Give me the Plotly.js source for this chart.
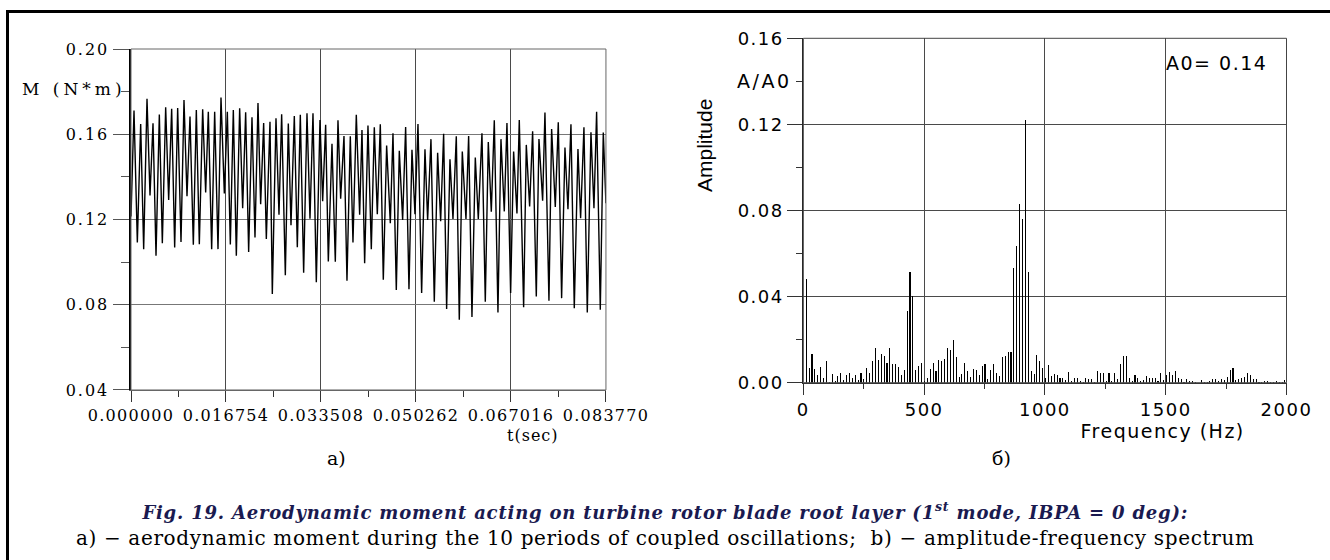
<!DOCTYPE html>
<html>
<head>
<meta charset="utf-8">
<script src="https://cdn.plot.ly/plotly-3.0.1.min.js"></script>
<style>
  html, body { margin:0; padding:0; background:#fff; }
  #wrap { position:relative; width:1330px; height:560px; overflow:hidden; }
  #chart { position:absolute; left:0; top:0; width:1330px; height:560px; }
  .frameTop { position:absolute; left:6px; top:10px; width:1324px; height:3px; background:#000; }
  .frameLeft { position:absolute; left:6px; top:10px; width:3px; height:550px; background:#000; }
  .xtick text { letter-spacing:1.25px; }
  .ytick text { letter-spacing:2px; }
  .x2tick text, .y2tick text { letter-spacing:1.5px; }
  g.annotation[data-index="0"] text { letter-spacing:4px; }
  g.annotation[data-index="1"] text { letter-spacing:1px; }
  g.annotation[data-index="2"] text { letter-spacing:2.5px; }
  g.annotation[data-index="4"] text { letter-spacing:1.5px; }
  g.annotation[data-index="5"] text { letter-spacing:1.5px; }
  g.annotation[data-index="8"] text { letter-spacing:0.8px; }
  g.annotation[data-index="9"] text { letter-spacing:0.65px; }
</style>
</head>
<body>
<div id="wrap">
  <div id="chart"></div>
  <div class="frameTop"></div>
  <div class="frameLeft"></div>
</div>
<script>
// ---------- (a) aerodynamic moment, time series (extrema) ----------
const timeSec = [
0.000000,0.000529,0.001117,0.001705,0.002234,0.002822,0.003351,0.003880,0.004409,0.004997,
0.005526,0.006114,0.006643,0.007172,0.007701,0.008230,0.008818,0.009347,0.009876,0.010405,
0.010993,0.011522,0.012051,0.012639,0.013168,0.013638,0.014226,0.014755,0.015343,0.015872,
0.016460,0.016989,0.017518,0.018047,0.018576,0.019164,0.019693,0.020222,0.020751,0.021339,
0.021868,0.022397,0.022868,0.023397,0.023867,0.024514,0.024925,0.025572,0.026101,0.026571,
0.027218,0.027747,0.028217,0.028805,0.029334,0.029863,0.030451,0.031039,0.031568,0.032097,
0.032685,0.033332,0.033802,0.034331,0.034801,0.035448,0.036036,0.036506,0.036977,0.037565,
0.038093,0.038681,0.039151,0.039739,0.040327,0.040738,0.041209,0.041797,0.042384,0.042913,
0.043442,0.043972,0.044501,0.045088,0.045735,0.046206,0.046793,0.047322,0.047910,0.048439,
0.049028,0.049556,0.050085,0.050615,0.051261,0.051849,0.052319,0.052907,0.053495,0.054083,
0.054612,0.055141,0.055670,0.056258,0.056787,0.057375,0.057904,0.058433,0.059080,0.059550,
0.060138,0.060726,0.061255,0.061901,0.062490,0.063019,0.063548,0.064077,0.064723,0.065252,
0.065840,0.066310,0.066957,0.067486,0.068074,0.068485,0.069250,0.069720,0.070308,0.070837,
0.071484,0.071954,0.072601,0.073012,0.073717,0.074188,0.074835,0.075364,0.075952,0.076540,
0.077068,0.077598,0.078185,0.078832,0.079302,0.079890,0.080478,0.081125,0.081654,0.082124,
0.082771,0.083300,0.083770
];
const momentNm = [
0.1214,0.1711,0.1092,0.1648,0.1061,0.1766,0.1313,0.1652,0.1030,0.1692,
0.1089,0.1727,0.1292,0.1719,0.1069,0.1723,0.1095,0.1761,0.1309,0.1683,
0.1081,0.1714,0.1084,0.1717,0.1327,0.1705,0.1061,0.1706,0.1061,0.1772,
0.1322,0.1705,0.1083,0.1714,0.1030,0.1722,0.1253,0.1703,0.1047,0.1680,
0.1116,0.1747,0.1272,0.1653,0.1108,0.1659,0.0850,0.1675,0.1222,0.1694,
0.0939,0.1650,0.1173,0.1686,0.1070,0.1691,0.0950,0.1698,0.1203,0.1698,
0.0906,0.1667,0.1286,0.1645,0.1003,0.1555,0.1002,0.1666,0.1298,0.1592,
0.0913,0.1591,0.1092,0.1691,0.1222,0.1620,0.0995,0.1641,0.1061,0.1633,
0.1225,0.1647,0.0917,0.1547,0.1183,0.1605,0.0869,0.1522,0.1198,0.1634,
0.0873,0.1527,0.1225,0.1648,0.0855,0.1530,0.1198,0.1577,0.0814,0.1513,
0.1192,0.1602,0.0780,0.1483,0.1202,0.1591,0.0730,0.1519,0.1202,0.1592,
0.0742,0.1491,0.1202,0.1605,0.0814,0.1564,0.1236,0.1666,0.0764,0.1577,
0.1238,0.1653,0.0855,0.1519,0.1228,0.1667,0.0788,0.1550,0.1261,0.1614,
0.0839,0.1578,0.1288,0.1702,0.0819,0.1625,0.1259,0.1656,0.0831,0.1538,
0.1248,0.1647,0.0784,0.1531,0.1206,0.1633,0.0764,0.1609,0.1253,0.1705,
0.0777,0.1608,0.1276
];
const timeTickVals = [0, 0.016754, 0.033508, 0.050262, 0.067016, 0.083770];
const timeTickText = ["0.000000","0.016754","0.033508","0.050262","0.067016","0.083770"];
const timeMinorVals = [0.008377, 0.025131, 0.041885, 0.058639, 0.075393];
const momentTickVals = [0.04, 0.08, 0.12, 0.16, 0.20];
const momentTickText = ["0.04","0.08","0.12","0.16","0.20"];
const momentMinorVals = [0.06, 0.10, 0.14, 0.18];

// ---------- (б) amplitude-frequency spectrum ----------
const freqHz = [
11.9,23.9,35.8,47.7,59.7,71.6,83.6,95.5,107.4,119.4,
131.3,143.2,155.2,167.1,179.1,191.0,202.9,214.9,226.8,238.7,
250.7,262.6,274.6,286.5,298.4,310.4,322.3,334.2,346.2,358.1,
370.0,382.0,393.9,405.9,417.8,429.7,441.7,453.6,465.5,477.5,
489.4,501.4,513.3,525.2,537.2,549.1,561.0,573.0,584.9,596.9,
608.8,620.7,632.7,644.6,656.5,668.5,680.4,692.3,704.3,716.2,
728.2,740.1,752.0,764.0,775.9,787.8,799.8,811.7,823.7,835.6,
847.5,859.5,871.4,883.3,895.3,907.2,919.1,931.1,943.0,955.0,
966.9,978.8,990.8,1002.7,1014.6,1026.6,1038.5,1050.5,1062.4,1074.3,
1086.3,1098.2,1110.1,1122.1,1134.0,1145.9,1157.9,1169.8,1181.8,1193.7,
1205.6,1217.6,1229.5,1241.4,1253.4,1265.3,1277.3,1289.2,1301.1,1313.1,
1325.0,1336.9,1348.9,1360.8,1372.7,1384.7,1396.6,1408.6,1420.5,1432.4,
1444.4,1456.3,1468.2,1480.2,1492.1,1504.1,1516.0,1527.9,1539.9,1551.8,
1563.7,1575.7,1587.6,1599.5,1611.5,1623.4,1635.4,1647.3,1659.2,1671.2,
1683.1,1695.0,1707.0,1718.9,1730.9,1742.8,1754.7,1766.7,1778.6,1790.5,
1802.5,1814.4,1826.3,1838.3,1850.2,1862.2,1874.1,1886.0,1898.0,1909.9,
1921.8,1933.8,1945.7,1957.7,1969.6,1981.5,1993.5
];
const amplitude = [
0.0480,0.0067,0.0132,0.0062,0.0034,0.0073,0.0023,0.0099,0.0005,0.0039,
0.0008,0.0030,0.0043,0.0012,0.0034,0.0043,0.0023,0.0034,0.0012,0.0043,
0.0019,0.0067,0.0043,0.0099,0.0161,0.0104,0.0132,0.0122,0.0091,0.0161,
0.0087,0.0087,0.0073,0.0036,0.0057,0.0333,0.0513,0.0405,0.0059,0.0076,
0.0090,0.0010,0.0020,0.0064,0.0090,0.0053,0.0105,0.0102,0.0108,0.0161,
0.0152,0.0197,0.0121,0.0028,0.0039,0.0091,0.0053,0.0028,0.0062,0.0059,
0.0034,0.0076,0.0085,0.0019,0.0059,0.0085,0.0046,0.0030,0.0118,0.0124,
0.0144,0.0144,0.0532,0.0637,0.0828,0.0760,0.1219,0.0515,0.0053,0.0039,
0.0130,0.0101,0.0067,0.0020,0.0081,0.0030,0.0039,0.0034,0.0023,0.0023,
0.0012,0.0051,0.0009,0.0023,0.0023,0.0009,0.0005,0.0023,0.0019,0.0019,
0.0005,0.0056,0.0043,0.0043,0.0009,0.0043,0.0009,0.0046,0.0019,0.0087,
0.0124,0.0124,0.0023,0.0009,0.0034,0.0023,0.0009,0.0012,0.0033,0.0023,
0.0023,0.0023,0.0009,0.0046,0.0012,0.0036,0.0048,0.0034,0.0053,0.0020,
0.0015,0.0005,0.0015,0.0009,0.0009,0.0003,0.0000,0.0012,0.0002,0.0005,
0.0006,0.0015,0.0015,0.0008,0.0015,0.0012,0.0028,0.0059,0.0070,0.0012,
0.0019,0.0023,0.0028,0.0043,0.0034,0.0015,0.0015,0.0005,0.0005,0.0009,
0.0009,0.0005,0.0005,0.0009,0.0005,0.0005,0.0012
];
const freqTickVals = [0, 500, 1000, 1500, 2000];
const freqTickText = ["0","500","1000","1500","2000"];
const freqMinorVals = [250, 750, 1250, 1750];
const ampTickVals = [0, 0.04, 0.08, 0.12, 0.16];
const ampTickText = ["0.00","0.04","0.08","0.12","0.16"];
const ampMinorVals = [0.02, 0.06, 0.10, 0.14];

const serif = "DejaVu Serif, Liberation Serif, serif";
const sans = "DejaVu Sans, Liberation Sans, sans-serif";
const gridC = "#4a4a4a";

const traces = [
  { type:"scatter", mode:"lines", x: timeSec, y: momentNm, xaxis:"x", yaxis:"y",
    line:{color:"#000", width:1.4, shape:"linear"}, hoverinfo:"skip" },
  { type:"bar", x: freqHz, y: amplitude, xaxis:"x2", yaxis:"y2", width:4.5,
    marker:{color:"#000", line:{width:0}}, hoverinfo:"skip" }
];

const layout = {
  width:1330, height:560, margin:{l:0, r:0, t:0, b:0},
  paper_bgcolor:"#fff", plot_bgcolor:"#fff", showlegend:false, bargap:0,
  xaxis:{ domain:[0.0985, 0.4556], range:[0, 0.08377], anchor:"y",
    tickmode:"array", tickvals:timeTickVals, ticktext:timeTickText,
    ticks:"outside", ticklen:11, tickwidth:1, tickcolor:"#333",
    showgrid:true, gridcolor:gridC, gridwidth:1, zeroline:false,
    showline:true, linecolor:"#666", linewidth:1,
    tickfont:{family:serif, size:16, color:"#000"},
    minor:{tickmode:"array", tickvals:timeMinorVals, ticks:"outside", ticklen:6, tickcolor:"#333", showgrid:false} },
  yaxis:{ domain:[0.3036, 0.9125], range:[0.04, 0.20], anchor:"x",
    tickmode:"array", tickvals:momentTickVals, ticktext:momentTickText,
    ticks:"outside", ticklen:16, tickwidth:1, tickcolor:"#555",
    showgrid:true, gridcolor:"#777", gridwidth:1, zeroline:false,
    showline:true, linecolor:"#000", linewidth:2.5,
    tickfont:{family:serif, size:16, color:"#000"},
    minor:{tickmode:"array", tickvals:momentMinorVals, ticks:"outside", ticklen:8, tickcolor:"#555", showgrid:false} },
  xaxis2:{ domain:[0.6040, 0.9673], range:[0, 2000], anchor:"y2",
    tickmode:"array", tickvals:freqTickVals, ticktext:freqTickText,
    ticks:"outside", ticklen:11, tickwidth:1, tickcolor:"#333",
    showgrid:true, gridcolor:gridC, gridwidth:1, zeroline:false,
    showline:true, linecolor:"#333", linewidth:1,
    tickfont:{family:sans, size:18, color:"#000"},
    minor:{tickmode:"array", tickvals:freqMinorVals, ticks:"outside", ticklen:5, tickcolor:"#333", showgrid:false} },
  yaxis2:{ domain:[0.3166, 0.9316], range:[0, 0.16], anchor:"x2",
    tickmode:"array", tickvals:ampTickVals, ticktext:ampTickText,
    ticks:"outside", ticklen:15, tickwidth:1, tickcolor:"#333",
    showgrid:true, gridcolor:gridC, gridwidth:1, zeroline:false,
    showline:true, linecolor:"#222", linewidth:1,
    tickfont:{family:sans, size:18, color:"#000"},
    minor:{tickmode:"array", tickvals:ampMinorVals, ticks:"outside", ticklen:6, tickcolor:"#333", showgrid:false} },
  shapes:[
    {type:"rect", xref:"x domain", yref:"y domain", x0:0, x1:1, y0:0, y1:1, line:{color:"#666", width:1}, layer:"above"},
    {type:"rect", xref:"x2 domain", yref:"y2 domain", x0:0, x1:1, y0:0, y1:1, line:{color:"#444", width:1}, layer:"above"}
  ],
  annotations:[
    {text:"M (N*m)", xref:"x domain", x:0, xanchor:"right", xshift:-17, yref:"y", y:0.18, yanchor:"middle", yshift:3,
     showarrow:false, font:{family:serif, size:17, color:"#000"}},
    {text:"t(sec)", xref:"x", x:0.0709, xanchor:"center", yref:"y domain", y:0, yanchor:"middle", yshift:-46,
     showarrow:false, font:{family:serif, size:16, color:"#000"}},
    {text:"A/A0", xref:"x2 domain", x:0, xanchor:"right", xshift:-14, yref:"y2", y:0.14, yanchor:"middle",
     showarrow:false, font:{family:sans, size:19, color:"#000"}},
    {text:"Amplitude", xref:"paper", x:0.5301, xanchor:"center", yref:"paper", y:0.7393, yanchor:"middle", textangle:-90,
     showarrow:false, font:{family:"Liberation Sans Narrow, Liberation Sans, sans-serif", size:21, color:"#000"}},
    {text:"A0= 0.14", xref:"x2", x:1500, xanchor:"left", xshift:4, yref:"y2", y:0.1484, yanchor:"middle",
     showarrow:false, font:{family:sans, size:19, color:"#000"}},
    {text:"Frequency (Hz)", xref:"x2", x:1485, xanchor:"center", yref:"y2 domain", y:0, yanchor:"middle", yshift:-48,
     showarrow:false, font:{family:sans, size:19, color:"#000"}},
    {text:"а)", xref:"paper", x:336/1330, xanchor:"center", yref:"paper", y:1-458/560, yanchor:"middle",
     showarrow:false, font:{family:serif, size:19, color:"#000"}},
    {text:"б)", xref:"paper", x:1002/1330, xanchor:"center", yref:"paper", y:1-458/560, yanchor:"middle",
     showarrow:false, font:{family:serif, size:19, color:"#000"}},
    {text:"<b><i>Fig. 19. Aerodynamic moment acting on turbine rotor blade root layer (1<sup>st</sup> mode, IBPA = 0 deg):</i></b>",
     xref:"paper", x:0.5, xanchor:"center", yref:"paper", y:1-511/560, yanchor:"middle",
     showarrow:false, font:{family:serif, size:18, color:"#1a1a50"}},
    {text:"a) − aerodynamic moment during the 10 periods of coupled oscillations;\u00a0 b) − amplitude-frequency spectrum",
     xref:"paper", x:0.5, xanchor:"center", yref:"paper", y:1-538/560, yanchor:"middle",
     showarrow:false, font:{family:serif, size:20, color:"#000"}}
  ]
};

Plotly.newPlot("chart", traces, layout, {displayModeBar:false, staticPlot:true});
</script>
</body>
</html>
